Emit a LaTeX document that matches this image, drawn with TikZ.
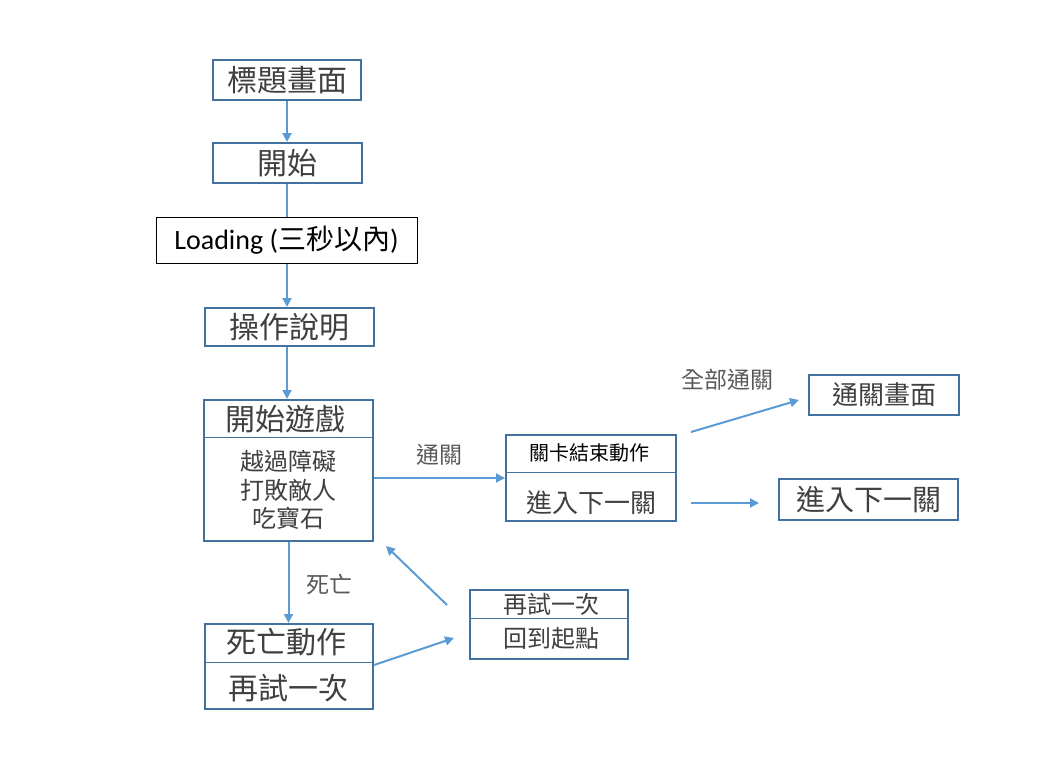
\documentclass[tikz,border=0pt]{standalone}
\usepackage{fontspec}
\setmainfont{Carlito}
\newfontfamily\cjk{Noto Sans CJK TC}
\usetikzlibrary{arrows.meta}
\definecolor{boxblue}{HTML}{41719C}
\definecolor{lineblue}{HTML}{5B9BD5}
\definecolor{txt}{HTML}{404040}
\definecolor{lbltxt}{HTML}{595959}
\newcommand{\fs}[1]{\fontsize{#1}{#1}\selectfont}
\begin{document}
\begin{tikzpicture}[x=1pt,y=-1pt,
  box/.style={draw=boxblue, line width=2pt, inner sep=0pt, fill=white, text=txt},
  divider/.style={draw=boxblue, line width=1pt},
  flow/.style={draw=lineblue, line width=2pt, -{Triangle[length=9pt,width=9pt]}},
  plain/.style={draw=lineblue, line width=2pt},
  lbl/.style={text=lbltxt, inner sep=0pt, font=\cjk\fs{23}},
  txtnode/.style={inner sep=0pt, text=txt}]
\useasboundingbox (0,0) rectangle (1056,768);

% main column
\node[box, minimum width=148pt, minimum height=40pt, font=\cjk\fs{30}] (title) at (287,80) {標題畫面};
\node[box, minimum width=149pt, minimum height=40pt, font=\cjk\fs{30}] (start) at (287,163) {開始};
\node[draw=black, line width=1pt, inner sep=0pt, minimum width=261pt, minimum height=46pt, text=black, font=\fs{28}] (loading) at (286.5,240) {Loading ({\cjk\fs{28}三秒以內})};
\node[box, minimum width=169pt, minimum height=38pt, font=\cjk\fs{30}] (guide) at (289.5,327) {操作說明};

% game box
\node[box, minimum width=169pt, minimum height=141pt] (game) at (288.5,470.5) {};
\draw[divider] (game.west |- 0,437) -- (game.east |- 0,437);
\node[txtnode, font=\cjk\fs{30}] (gameA) at (285,419) {開始遊戲};
\node[txtnode, font=\cjk\fs{24}] (gameB) at (288.5,461) {越過障礙};
\node[txtnode, font=\cjk\fs{24}] (gameC) at (288.5,490) {打敗敵人};
\node[txtnode, font=\cjk\fs{24}] (gameD) at (288.5,518) {吃寶石};

% level-end box
\node[box, minimum width=170pt, minimum height=86pt] (level) at (591,478) {};
\draw[divider] (level.west |- 0,472) -- (level.east |- 0,472);
\node[txtnode, text=black, font=\cjk\fs{20}] (levelA) at (589,453) {關卡結束動作};
\node[txtnode, font=\cjk\fs{26}] (levelB) at (591,503) {進入下一關};

% right column
\node[box, minimum width=150pt, minimum height=40pt, font=\cjk\fs{26}] (clear) at (884,395) {通關畫面};
\node[box, minimum width=179pt, minimum height=41pt, font=\cjk\fs{29}] (next) at (868.5,499.5) {進入下一關};

% death box
\node[box, minimum width=168pt, minimum height=85pt] (death) at (289,666.5) {};
\draw[divider] (death.west |- 0,662) -- (death.east |- 0,662);
\node[txtnode, font=\cjk\fs{30}] (deathA) at (286,642) {死亡動作};
\node[txtnode, font=\cjk\fs{30}] (deathB) at (288,688) {再試一次};

% retry box
\node[box, minimum width=158pt, minimum height=69pt] (retry) at (549,624.5) {};
\draw[divider] (retry.west |- 0,618) -- (retry.east |- 0,618);
\node[txtnode, font=\cjk\fs{24}] (retryA) at (551,604) {再試一次};
\node[txtnode, font=\cjk\fs{24}] (retryB) at (551,638) {回到起點};

% connectors
\draw[flow] (title) -- (start);
\draw[plain] (start) -- (start |- loading.north);
\draw[flow] (start |- loading.south) -- (start |- guide.north);
\draw[flow] (start |- guide.south) -- (start |- game.north);
\draw[flow] (game.east |- level.center) -- (level);
\draw[flow] ([shift={(14,-2)}]level.north east) -- ([shift={(-9,5)}]clear.west);
\draw[flow] ([shift={(14,25)}]level.east) -- ([shift={(-19,3.5)}]next.west);
\draw[flow] (game.south) -- (game.south |- death.north);
\draw[flow] ([shift={(0,-1.5)}]death.east) -- ([shift={(-15,13.5)}]retry.west);
\draw[flow] ([shift={(-22,-19.5)}]retry.west) -- ([shift={(12,4)}]game.south east);

% connector labels
\node[lbl] (lclear) at (439,455) {通關};
\node[lbl] (lall) at (727,380) {全部通關};
\node[lbl] (ldeath) at (329,585) {死亡};
\end{tikzpicture}
\end{document}
